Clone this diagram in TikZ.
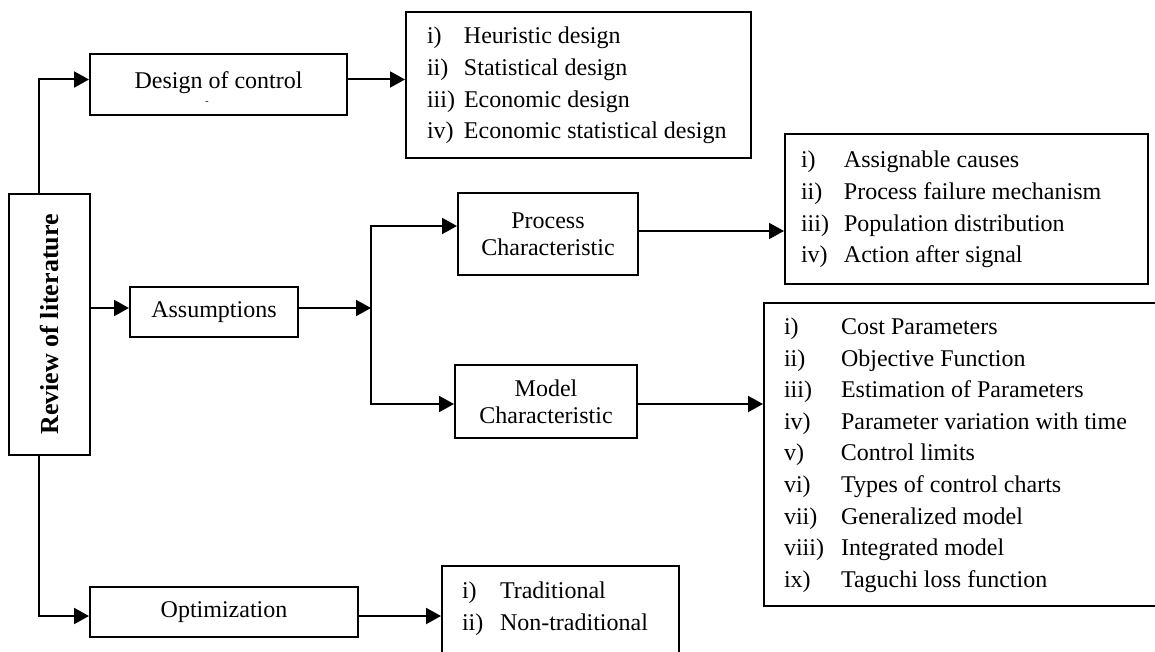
\documentclass[tikz,border=0pt]{standalone}
\usepackage{fontspec}
\setmainfont{Liberation Serif}
\usetikzlibrary{arrows.meta}

% list of numbered entries: total width, numeral column width, rows
\newcommand{\rowlist}[3]{\makebox[#1][l]{\begin{tabular}{@{}p{#2}@{}l@{}}#3\end{tabular}}}

\tikzset{
    box/.style={draw, inner sep=0pt, align=center, font=\fontsize{24}{27}\selectfont},
    listbox/.style={draw, anchor=north west, inner xsep=#1, inner ysep=0pt, font=\fontsize{24}{31.6}\selectfont},
}

\begin{document}
\begin{tikzpicture}[x=1pt, y=-1pt, >={Triangle[length=15pt, width=16pt]}, line width=2pt]
    \clip (0,0) rectangle (1155,652);

    % left column
    \node[box, minimum width=81pt, minimum height=261pt] (review) at (49.5,324.5)
        {\rotatebox{90}{\fontsize{26}{26}\selectfont\bfseries Review of literature}};
    \node[box, minimum width=257pt, minimum height=61pt, text depth=9pt] (design) at (218.5,84.5) {Design of control};
    \node[font=\fontsize{10}{10}\selectfont, inner sep=0pt] (designmark) at (207,103) {-};
    \node[box, minimum width=168pt, minimum height=50pt] (assum) at (214,312) {Assumptions};
    \node[box, minimum width=268pt, minimum height=50pt] (optim) at (224,612) {Optimization};

    % characteristics
    \node[box, minimum width=180pt, minimum height=82pt] (proc) at (548,234) {Process\\Characteristic};
    \node[box, minimum width=182pt, minimum height=73pt] (model) at (546,401.5) {Model\\Characteristic};
    \coordinate (split) at (371,308);

    % lists
    \node[listbox=21pt, minimum height=146pt] (dlist) at (405,11)
        {\rowlist{303pt}{37pt}{i) & Heuristic design\\ ii) & Statistical design\\ iii) & Economic design\\ iv) & Economic statistical design}};
    \node[listbox=16pt, minimum height=150pt] (plist) at (784,133)
        {\rowlist{331pt}{43pt}{i) & Assignable causes\\ ii) & Process failure mechanism\\ iii) & Population distribution\\ iv) & Action after signal}};
    \node[listbox=20pt, minimum height=303pt] (mlist) at (763,302)
        {\rowlist{370pt}{57pt}{i) & Cost Parameters\\ ii) & Objective Function\\ iii) & Estimation of Parameters\\
            iv) & Parameter variation with time\\ v) & Control limits\\ vi) & Types of control charts\\
            vii) & Generalized model\\ viii) & Integrated model\\ ix) & Taguchi loss function}};
    \node[listbox=20pt, minimum height=116pt] (olist) at (441,565)
        {\rowlist{197pt}{38pt}{i) & Traditional\\ ii) & Non-traditional\\ & }};

    % connectors
    \draw[->] ([xshift=31pt]review.north west) |- ([yshift=5pt]design.west);
    \draw[->] ([yshift=4pt]assum.west -| review.east) -- ([yshift=4pt]assum.west);
    \draw[->] ([xshift=31pt]review.south west) |- ([yshift=-4pt]optim.west);
    \draw[->] ([yshift=5pt]design.east) -- ([yshift=5pt]design.east -| dlist.west);
    \draw[->] ([yshift=4pt]assum.east) -- (split);
    \draw[->] (split) |- ([yshift=8pt]proc.west);
    \draw[->] (split) |- ([yshift=-2.5pt]model.west);
    \draw[->] ([yshift=3pt]proc.east) -- ([yshift=3pt]proc.east -| plist.west);
    \draw[->] ([yshift=-2.5pt]model.east) -- ([yshift=-2.5pt]model.east -| mlist.west);
    \draw[->] ([yshift=-4pt]optim.east) -- ([yshift=-4pt]optim.east -| olist.west);
\end{tikzpicture}
\end{document}
